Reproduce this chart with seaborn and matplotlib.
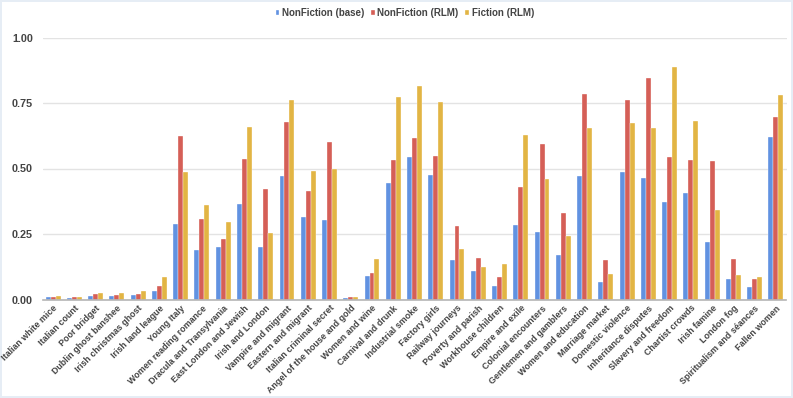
import numpy as np
import pandas as pd
import matplotlib
matplotlib.use('Agg')
import matplotlib.pyplot as plt
import seaborn as sns

topics = [
    "Italian white mice", "Italian count", "Poor bridget", "Dublin ghost banshee",
    "Irish christmas ghost", "Irish land league", "Young Italy", "Women reading romance",
    "Dracula and Transylvania", "East London and Jewish", "Irish and London",
    "Vampire and migrant", "Eastern and migrant", "Italian criminal secret",
    "Angel of the house and gold", "Women and wine", "Carnival and drunk",
    "Industrial smoke", "Factory girls", "Railway journeys", "Poverty and parish",
    "Workhouse children", "Empire and exile", "Colonial encounters",
    "Gentlemen and gamblers", "Women and education", "Marriage market",
    "Domestic violence", "Inheritance disputes", "Slavery and freedom",
    "Chartist crowds", "Irish famine", "London fog", "Spiritualism and séances",
    "Fallen women",
]
nonfiction_base = [
    0.008, 0.004, 0.013, 0.015, 0.017, 0.034, 0.289, 0.188, 0.200, 0.363,
    0.202, 0.471, 0.314, 0.305, 0.004, 0.088, 0.444, 0.543, 0.477, 0.150,
    0.109, 0.053, 0.284, 0.257, 0.169, 0.471, 0.066, 0.486, 0.463, 0.371,
    0.407, 0.220, 0.079, 0.046, 0.622,
]
nonfiction_rlm = [
    0.010, 0.009, 0.022, 0.018, 0.022, 0.053, 0.625, 0.308, 0.230, 0.536,
    0.420, 0.679, 0.416, 0.603, 0.008, 0.100, 0.533, 0.616, 0.548, 0.279,
    0.159, 0.085, 0.431, 0.592, 0.330, 0.786, 0.151, 0.761, 0.845, 0.545,
    0.534, 0.527, 0.153, 0.078, 0.695,
]
fiction_rlm = [
    0.014, 0.009, 0.025, 0.024, 0.032, 0.084, 0.486, 0.360, 0.294, 0.660,
    0.254, 0.762, 0.492, 0.500, 0.011, 0.153, 0.772, 0.813, 0.753, 0.191,
    0.125, 0.134, 0.627, 0.459, 0.242, 0.656, 0.099, 0.673, 0.656, 0.887,
    0.683, 0.342, 0.093, 0.085, 0.779,
]
series_names = ["NonFiction (base)", "NonFiction (RLM)", "Fiction (RLM)"]
colors = ["#4C8DF6", "#EA4D42", "#FCC12A"]

df = pd.DataFrame({
    "topic": topics * 3,
    "score": nonfiction_base + nonfiction_rlm + fiction_rlm,
    "series": np.repeat(series_names, len(topics)),
})

sns.set_style("white")
plt.rcParams['font.family'] = ['Liberation Sans', 'DejaVu Sans']

fig = plt.figure(figsize=(7.93, 3.98), dpi=100)
fig.patch.set_edgecolor("#e6edf5")
fig.patch.set_linewidth(1.5)
ax = fig.add_axes([42.5 / 793, 1 - 299.5 / 398, 744 / 793, 262 / 398])

sns.barplot(data=df, x="topic", y="score", hue="series", palette=colors,
            width=0.7, edgecolor="white", linewidth=0.25, ax=ax, legend=True)

ax.set_ylim(0, 1.0)
ax.set_xlim(-0.5, len(topics) - 0.5)
ax.set_yticks([0, 0.25, 0.5, 0.75, 1.0])
ax.set_yticklabels(["0.00", "0.25", "0.50", "0.75", "1.00"],
                   fontsize=7.8, fontweight="bold", color="#444444")
ax.yaxis.grid(True, color="#e3e3e3", linewidth=1)
ax.set_axisbelow(True)
for side in ["top", "right", "left"]:
    ax.spines[side].set_visible(False)
ax.spines["bottom"].set_color("#b5b5b5")
ax.spines["bottom"].set_linewidth(1.2)
ax.tick_params(axis="y", length=0, pad=7)
ax.tick_params(axis="x", length=0, pad=3)
ax.set_xticks(range(len(topics)))
ax.set_xticklabels(topics, rotation=45, ha="right", rotation_mode="anchor",
                   fontsize=6.4, fontweight="bold", color="#444444")
ax.set_xlabel("")
ax.set_ylabel("")

ax.legend(loc="upper center", bbox_to_anchor=(0.487, 1.145), ncol=3,
          frameon=False, handlelength=0.4, handleheight=0.4,
          handletextpad=0.25, columnspacing=0.7,
          prop={"size": 7.0, "weight": "bold"}, labelcolor="#444444")

fig.savefig("out.png", dpi=100)
